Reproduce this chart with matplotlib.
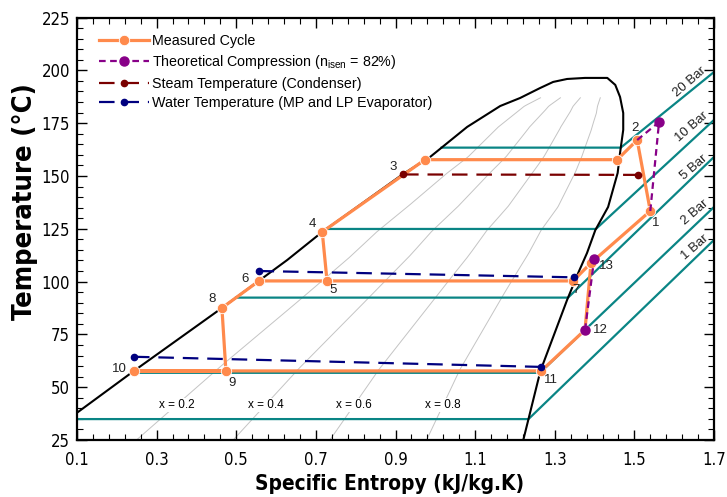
import numpy as np
import matplotlib
matplotlib.use("Agg")
import matplotlib.pyplot as plt
from matplotlib import font_manager as fm
from matplotlib.ticker import FixedLocator

plt.rcParams['font.family'] = ['Liberation Sans', 'DejaVu Sans']
plt.rcParams['mathtext.fontset'] = 'custom'
plt.rcParams['mathtext.rm'] = 'Liberation Sans'
plt.rcParams['mathtext.it'] = 'Liberation Sans:italic'
plt.rcParams['mathtext.bf'] = 'Liberation Sans:bold'


def _weight(w):
    if isinstance(w, (int, float)):
        return w
    return {'bold': 700, 'heavy': 800, 'black': 900, 'semibold': 600, 'demibold': 600,
            'medium': 500}.get(str(w).lower(), 400)


def find_condensed(bold):
    prefs = ['liberation sans narrow', 'arial narrow', 'dejavu sans condensed', 'dejavu sans',
             'roboto condensed', 'noto sans', 'open sans condensed', 'open sans']
    best = None
    for f in fm.fontManager.ttflist:
        nm = f.name.lower()
        fn = f.fname.lower().replace('-', '').replace('_', '')
        cond = ('narrow' in nm or 'narrow' in fn or
                ('condensed' in fn and 'semicondensed' not in fn and 'extracondensed' not in fn
                 and 'ultracondensed' not in fn) or
                ('condensed' in nm and 'semi' not in nm and 'extra' not in nm))
        if not cond or 'mono' in nm or 'serif' in nm.replace('sans', ''):
            continue
        if f.style != 'normal' or 'italic' in fn or 'oblique' in fn:
            continue
        isbold = _weight(f.weight) >= 600 or 'bold' in fn
        if bold != isbold:
            continue
        if bold and ('semibold' in fn or 'extrabold' in fn or 'black' in fn):
            continue
        if not bold and ('light' in fn or 'thin' in fn or 'medium' in fn):
            continue
        rank = next((i for i, p in enumerate(prefs) if nm.startswith(p)), len(prefs))
        if best is None or rank < best[0]:
            best = (rank, f.fname)
    return best[1] if best else None


COND_REG = find_condensed(False)
COND_BOLD = find_condensed(True)

# ---------------- data ----------------
# saturation dome (left: liquid branch, right: vapour branch)
liq_s = [0.000, 0.100, 0.243, 0.464, 0.628, 0.716, 0.919, 0.987, 1.080, 1.163, 1.213, 1.263, 1.296, 1.331, 1.376]
liq_T = [24.1, 37.9, 57.7, 87.5, 110.2, 123.5, 150.9, 159.0, 173.2, 183.1, 186.9, 191.6, 194.5, 195.9, 196.4]
vap_s = [1.432, 1.452, 1.464, 1.472, 1.472, 1.464, 1.458, 1.434, 1.402, 1.381, 1.359, 1.331, 1.264, 1.221]
vap_T = [196.4, 193.1, 187.4, 179.8, 171.8, 160.9, 151.4, 135.3, 124.4, 113.5, 104.1, 91.3, 57.7, 25.0]

# isobars
isobar_labels = ['1 Bar', '2 Bar', '5 Bar', '10 Bar', '20 Bar']
isobar_Tsat = [34.9, 56.8, 92.4, 124.9, 163.4]
isobar_T_end = [119.7, 135.3, 159.0, 176.5, 199.2]   # temperature at s = 1.7
isobar_s_end = 1.7

# quality lines
qualities = [0.2, 0.4, 0.6, 0.8]
quality_T_max = 187.0

# cycle state points
state_names = ['1', '2', '2v', '3', '4', '5', '6', '7', '8', '9', '10', '11', '12', '13']
state_s = [1.540, 1.507, 1.457, 0.974, 0.716, 0.728, 0.557, 1.346, 0.464, 0.474, 0.243, 1.266, 1.376, 1.391]
state_T = [133.4, 167.0, 157.7, 157.7, 123.5, 100.3, 100.3, 100.3, 87.5, 57.7, 57.7, 57.7, 77.1, 108.8]
cycle_path = ['13', '7', '5', '4', '3', '2v', '2', '1', '13', '12', '11', '10', '9', '8', '6', '5']

# theoretical compression (isentropic eff. 82 %)
isen_lp_s = [1.376, 1.399]
isen_lp_T = [77.1, 110.7]
isen_hp_s = [1.540, 1.562, 1.507]
isen_hp_T = [133.4, 175.5, 167.0]

# steam temperature (condenser)
steam_s = [0.919, 1.510]
steam_T = [150.7, 150.5]

# water temperature (MP and LP evaporator)
water_mp_s = [0.556, 1.349]
water_mp_T = [105.0, 102.0]
water_lp_s = [0.243, 1.266]
water_lp_T = [64.4, 59.6]

# ---------------- styling ----------------
ORANGE = '#FF8A4C'
PURPLE = '#880088'
DARKRED = '#7A0000'
NAVY = '#00007F'
TEAL = '#0A8585'

label_offsets = {  # pixel offsets of the state labels
    '1': (5, -12), '2': (-2, 12), '3': (-32, -7), '4': (-10, 8), '5': (6, -9),
    '6': (-14, 2), '7': (3, -9), '8': (-10, 9), '9': (6, -12), '10': (-15, 2),
    '11': (10, -9), '12': (15, 0), '13': (15, -3)}
bar_label_pos = [(1.653, 116.4), (1.653, 132.9), (1.650, 154.2), (1.645, 173.2), (1.640, 194.5)]

fig = plt.figure(figsize=(7.27, 4.97), dpi=100)
ax = fig.add_axes([77 / 727, 1 - 440 / 497, 637 / 727, 422.5 / 497])
ax.set_xlim(0.1, 1.7)
ax.set_ylim(25, 225)

# dome
ax.plot(liq_s + vap_s, liq_T + vap_T, color='black', lw=1.5, zorder=3)

# quality lines
Tq = np.linspace(25, quality_T_max, 200)
vs = np.array(vap_s[2:][::-1]); vT = np.array(vap_T[2:][::-1])
sl = np.interp(Tq, liq_T, liq_s)
sv = np.interp(Tq, vT, vs)
for q in qualities:
    ax.plot(sl + q * (sv - sl), Tq, color='#C4C4C4', lw=0.7, zorder=1)
    Tl = 41.6
    sl0 = np.interp(Tl, liq_T, liq_s); sv0 = np.interp(Tl, vT, vs)
    ax.text(sl0 + q * (sv0 - sl0), Tl, f'x = {q:.1f}', fontsize=8.5, ha='center', va='center',
            zorder=2, bbox=dict(boxstyle='square,pad=0.1', fc='white', ec='none'))

# isobars
for lab, Ts, Te, pos in zip(isobar_labels, isobar_Tsat, isobar_T_end, bar_label_pos):
    s_l = np.interp(Ts, liq_T, liq_s)
    s_v = np.interp(Ts, vT, vs)
    ax.plot([s_l, s_v, isobar_s_end], [Ts, Ts, Te], color=TEAL, lw=1.6, zorder=2)
    ax.text(pos[0], pos[1], lab, fontsize=9.5, rotation=41, ha='center', va='center',
            rotation_mode='anchor', color='#222222')

# measured cycle
idx = {n: i for i, n in enumerate(state_names)}
ps = [state_s[idx[n]] for n in cycle_path]
pT = [state_T[idx[n]] for n in cycle_path]
ax.plot(ps, pT, color=ORANGE, lw=2.3, marker='o', ms=7.5, mec='white', mew=0.6,
        zorder=4, label='Measured Cycle')

# theoretical compression
ax.plot(isen_lp_s, isen_lp_T, color=PURPLE, lw=1.6, ls=(0, (3, 2)), marker='o', ms=6.5,
        zorder=5, label=r'Theoretical Compression (n$_{\mathrm{isen}}$ = 82%)')
ax.plot(isen_hp_s, isen_hp_T, color=PURPLE, lw=1.6, ls=(0, (3, 2)), marker='o', ms=6.5,
        markevery=[1], zorder=5)

# steam and water temperatures
ax.plot(steam_s, steam_T, color=DARKRED, lw=1.6, ls=(0, (7, 4)), marker='o', ms=4.5,
        zorder=5, label='Steam Temperature (Condenser)')
ax.plot(water_mp_s, water_mp_T, color=NAVY, lw=1.6, ls=(0, (7, 4)), marker='o', ms=4.5,
        zorder=5, label='Water Temperature (MP and LP Evaporator)')
ax.plot(water_lp_s, water_lp_T, color=NAVY, lw=1.6, ls=(0, (7, 4)), marker='o', ms=4.5, zorder=5)

# state labels
for n in state_names:
    if n in label_offsets:
        ax.annotate(n, (state_s[idx[n]], state_T[idx[n]]), xytext=label_offsets[n],
                    textcoords='offset pixels', ha='center', va='center', fontsize=9.5,
                    color='#222222', zorder=6)

# axes
ax.xaxis.set_major_locator(FixedLocator(np.arange(0.1, 1.7001, 0.2)))
ax.xaxis.set_minor_locator(FixedLocator(np.arange(0.1, 1.7001, 0.04)))
ax.yaxis.set_major_locator(FixedLocator(np.arange(25, 226, 25)))
ax.yaxis.set_minor_locator(FixedLocator(np.arange(25, 226, 5)))
ax.set_xticklabels([f'{v:.1f}' for v in np.arange(0.1, 1.7001, 0.2)])
ax.tick_params(which='both', direction='in', top=True, right=True)
ax.tick_params(which='major', length=7, width=1.0)
ax.tick_params(axis='x', which='major', pad=8)
ax.tick_params(axis='y', which='major', pad=5)
ax.tick_params(which='minor', length=4, width=0.8)
if COND_REG:
    tick_fp = fm.FontProperties(fname=COND_REG, size=12)
else:
    tick_fp = fm.FontProperties(family='Liberation Sans', size=11)
for lab in ax.get_xticklabels() + ax.get_yticklabels():
    lab.set_fontproperties(tick_fp)
for sp in ax.spines.values():
    sp.set_linewidth(1.6)

if COND_BOLD:
    xl_fp = fm.FontProperties(fname=COND_BOLD, size=19)
    yl_fp = fm.FontProperties(fname=COND_BOLD, size=19)
else:
    xl_fp = fm.FontProperties(family='Liberation Sans', weight='bold', size=19)
    yl_fp = fm.FontProperties(family='Liberation Sans', weight='bold', size=19)
xlab = ax.set_xlabel('Specific Entropy (kJ/kg.K)', fontproperties=xl_fp)
ax.xaxis.set_label_coords(0.49, -0.081)
ylab = ax.set_ylabel('Temperature (°C)', fontproperties=yl_fp)
ax.yaxis.set_label_coords(-0.062, 0.565)

# fit axis-title sizes to the lengths seen in the reference (268 px and 237 px)
fig.canvas.draw()
r = fig.canvas.get_renderer()
w = xlab.get_window_extent(r).width
xlab.set_fontsize(19 * 268 / w)
h = ylab.get_window_extent(r).height
ylab.set_fontsize(19 * 237 / h)

leg = ax.legend(loc='upper left', bbox_to_anchor=(0.034, 0.961), frameon=False, fontsize=10.3,
                handlelength=3.5, handletextpad=0.25, labelspacing=0.38, borderpad=0,
                borderaxespad=0, numpoints=1)

fig.savefig('out.png', dpi=100)
